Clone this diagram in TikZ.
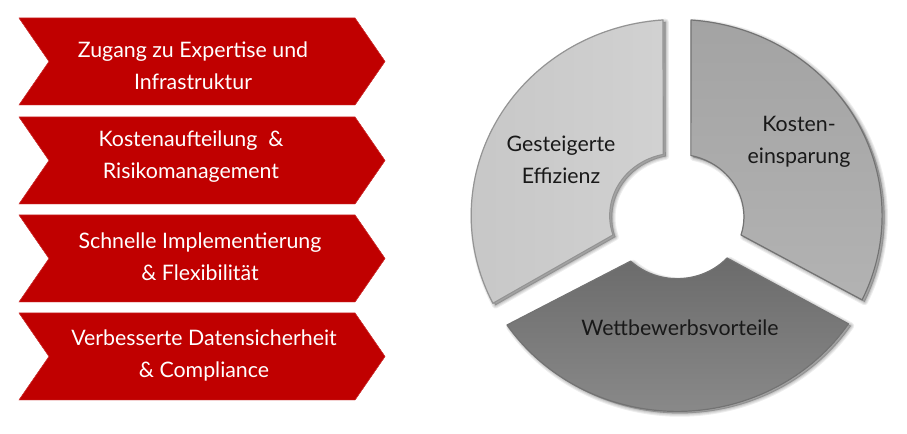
\documentclass[tikz,border=0pt]{standalone}
\usepackage{fontspec}
\setmainfont{Lato}
\usetikzlibrary{calc}
\definecolor{chev}{HTML}{C00000}
\tikzset{
  x=.75pt,y=.75pt,
  chevbox/.style={fill=chev,draw=chev!75!white,line width=.3pt},
  chevtext/.style={text=white,align=center,font=\fontsize{16}{24}\selectfont,inner sep=0pt},
  segtext/.style={text=black!90,align=center,font=\fontsize{16}{24}\selectfont,inner sep=0pt},
  segedge/.style={draw=#1,line width=.9pt,line join=round},
  softshadow/.style={draw=black,fill=black,line join=round,opacity=.07,line width=#1,shift={(2.5,-2)}},
}
\newcommand{\chevron}[1]{(19,#1) -- (355,#1) -- (385,#1-43.5) -- (355,#1-87) -- (19,#1-87) -- (49,#1-43.5) -- cycle}
\newcommand{\segleft}{(663,414) arc[x radius=154.1pt,y radius=147pt,start angle=93.8,end angle=206.6] -- (613,199) arc[x radius=50.25pt,y radius=46.9pt,start angle=198,end angle=101.6] -- cycle}
\newcommand{\segright}{(691,414) arc[x radius=154.1pt,y radius=147pt,start angle=86,end angle=-25.5] -- (741,199) arc[x radius=50.25pt,y radius=46.9pt,start angle=-17,end angle=78] -- cycle}
\newcommand{\segbottom}{(507,109) arc[x radius=154.1pt,y radius=147pt,start angle=214,end angle=326.4] -- (727,176) arc[x radius=50.25pt,y radius=46.9pt,start angle=318,end angle=226] -- cycle}
\begin{document}
\begin{tikzpicture}
\useasboundingbox (0,0) rectangle (907,434);
\fill[chevbox] \chevron{416};
\fill[chevbox] \chevron{317};
\fill[chevbox] \chevron{219};
\fill[chevbox] \chevron{121};
\draw[chevbox] \chevron{416};
\draw[chevbox] \chevron{317};
\draw[chevbox] \chevron{219};
\draw[chevbox] \chevron{121};
\node[chevtext] (c1) at (193,368) {Zugang zu Expertise und\\Infrastruktur};
\node[chevtext] (c2) at (191,277) {Kostenaufteilung~ \&\\Risikomanagement};
\node[chevtext] (c3) at (200,177) {Schnelle Implementierung\\\& Flexibilität};
\node[chevtext] (c4) at (204,79) {Verbesserte Datensicherheit\\\& Compliance};
% soft shadows
\foreach \w in {5pt,3.5pt,2pt,.8pt}{
  \path[softshadow=\w] \segleft;
  \path[softshadow=\w] \segright;
  \path[softshadow=\w] \segbottom;
}
\path[left color=black!22,right color=black!18,segedge=black!42] \segleft;
\path[top color=black!36,bottom color=black!30,segedge=black!55] \segright;
\path[top color=black!58,bottom color=black!46,segedge=black!55] \segbottom;
\node[segtext] (s1) at (561,274.5) {Gesteigerte\\Effizienz};
\node[segtext] (s2) at (799,292) {Kosten-\\einsparung};
\node[segtext] (s3) at (680,106) {Wettbewerbsvorteile};
\end{tikzpicture}
\end{document}
